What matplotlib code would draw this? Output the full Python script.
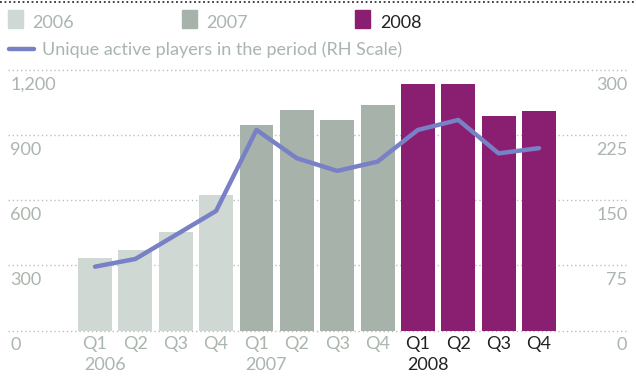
import matplotlib

matplotlib.use("Agg")
import matplotlib.pyplot as plt
from matplotlib.patches import Rectangle
from matplotlib.lines import Line2D

plt.rcParams["font.family"] = ["Lato", "DejaVu Sans"]

# data
quarters = ["Q1", "Q2", "Q3", "Q4"] * 3
years = ["2006", "2007", "2008"]
bar_values = [334, 372, 455, 625, 946, 1016, 970, 1039, 1136, 1136, 988, 1011]
players = [73.5, 82.4, 110, 137.7, 231, 198.4, 183.8, 194.5, 231, 242.5, 204, 210]
left_ticks = [0, 300, 600, 900, 1200]
right_ticks = [0, 75, 150, 225, 300]

year_colors = ["#cfd8d2", "#a7b3aa", "#8a1f72"]
label_colors = ["#a9b5ad", "#a9b5ad", "#222222"]
line_color = "#7880c6"
grid_color = "#b9c1bc"

W, H = 636, 378
fig = plt.figure(figsize=(W / 100, H / 100), dpi=100)


def fx(px):
    return px / W


def fy(py):
    return 1 - py / H


ax = fig.add_axes([fx(8), fy(330.5), fx(628) - fx(8), fy(70) - fy(330.5)])
ax2 = ax.twinx()

x = list(range(len(bar_values)))
colors = [year_colors[i // 4] for i in x]
ax.bar(x, bar_values, width=0.84, color=colors, zorder=2)
ax.set_xlim(-2.156, 13.205)
ax.set_ylim(0, 1200)

ax2.plot(x, players, color=line_color, lw=3.2, solid_capstyle="round",
         solid_joinstyle="round", zorder=3)
ax2.set_ylim(0, 300)

for a in (ax, ax2):
    a.set_axis_off()
ax2.set_zorder(ax.get_zorder() + 1)

for t in left_ticks:
    ax.axhline(t, color=grid_color, lw=1.0, ls=(0, (1, 2)), zorder=1, clip_on=False)
    ax.annotate(f"{t:,}", (0, t), xycoords=("axes fraction", "data"),
                xytext=(1.5, -5), textcoords="offset points", ha="left", va="top",
                fontsize=13, color=label_colors[0])
for t in right_ticks:
    ax2.annotate(f"{t}", (1, t), xycoords=("axes fraction", "data"),
                 xytext=(-0.5, -5), textcoords="offset points", ha="right", va="top",
                 fontsize=13, color=label_colors[0])

for i, q in enumerate(quarters):
    c = label_colors[i // 4]
    ax.annotate(q, (i, 0), xytext=(0, -4), textcoords="offset points",
                ha="center", va="top", fontsize=13, color=c, annotation_clip=False)
for j, yr in enumerate(years):
    ax.annotate(yr, (4 * j, 0), xytext=(-8, -19), textcoords="offset points",
                ha="left", va="top", fontsize=13, color=label_colors[j],
                annotation_clip=False)

# top rule
fig.add_artist(Line2D([fx(0), fx(636)], [fy(1.5), fy(1.5)], color="#333333",
                      lw=1.3, ls=(0, (1, 1.5))))

# legend
for (sx, tx), yr, c, tc in zip([(8, 32), (182, 206), (355, 380)], years,
                               year_colors, label_colors):
    fig.add_artist(Rectangle((fx(sx), fy(28)), fx(15), fy(10) - fy(28),
                             transform=fig.transFigure, color=c))
    fig.text(fx(tx), fy(28), yr, fontsize=13, color=tc, ha="left", va="baseline")

fig.add_artist(Line2D([fx(9), fx(34)], [fy(49), fy(49)], color=line_color, lw=3.2,
                      solid_capstyle="round"))
fig.text(fx(42), fy(55), "Unique active players in the period (RH Scale)",
         fontsize=13, color=label_colors[0], ha="left", va="baseline")

fig.savefig("out.png", dpi=100)
